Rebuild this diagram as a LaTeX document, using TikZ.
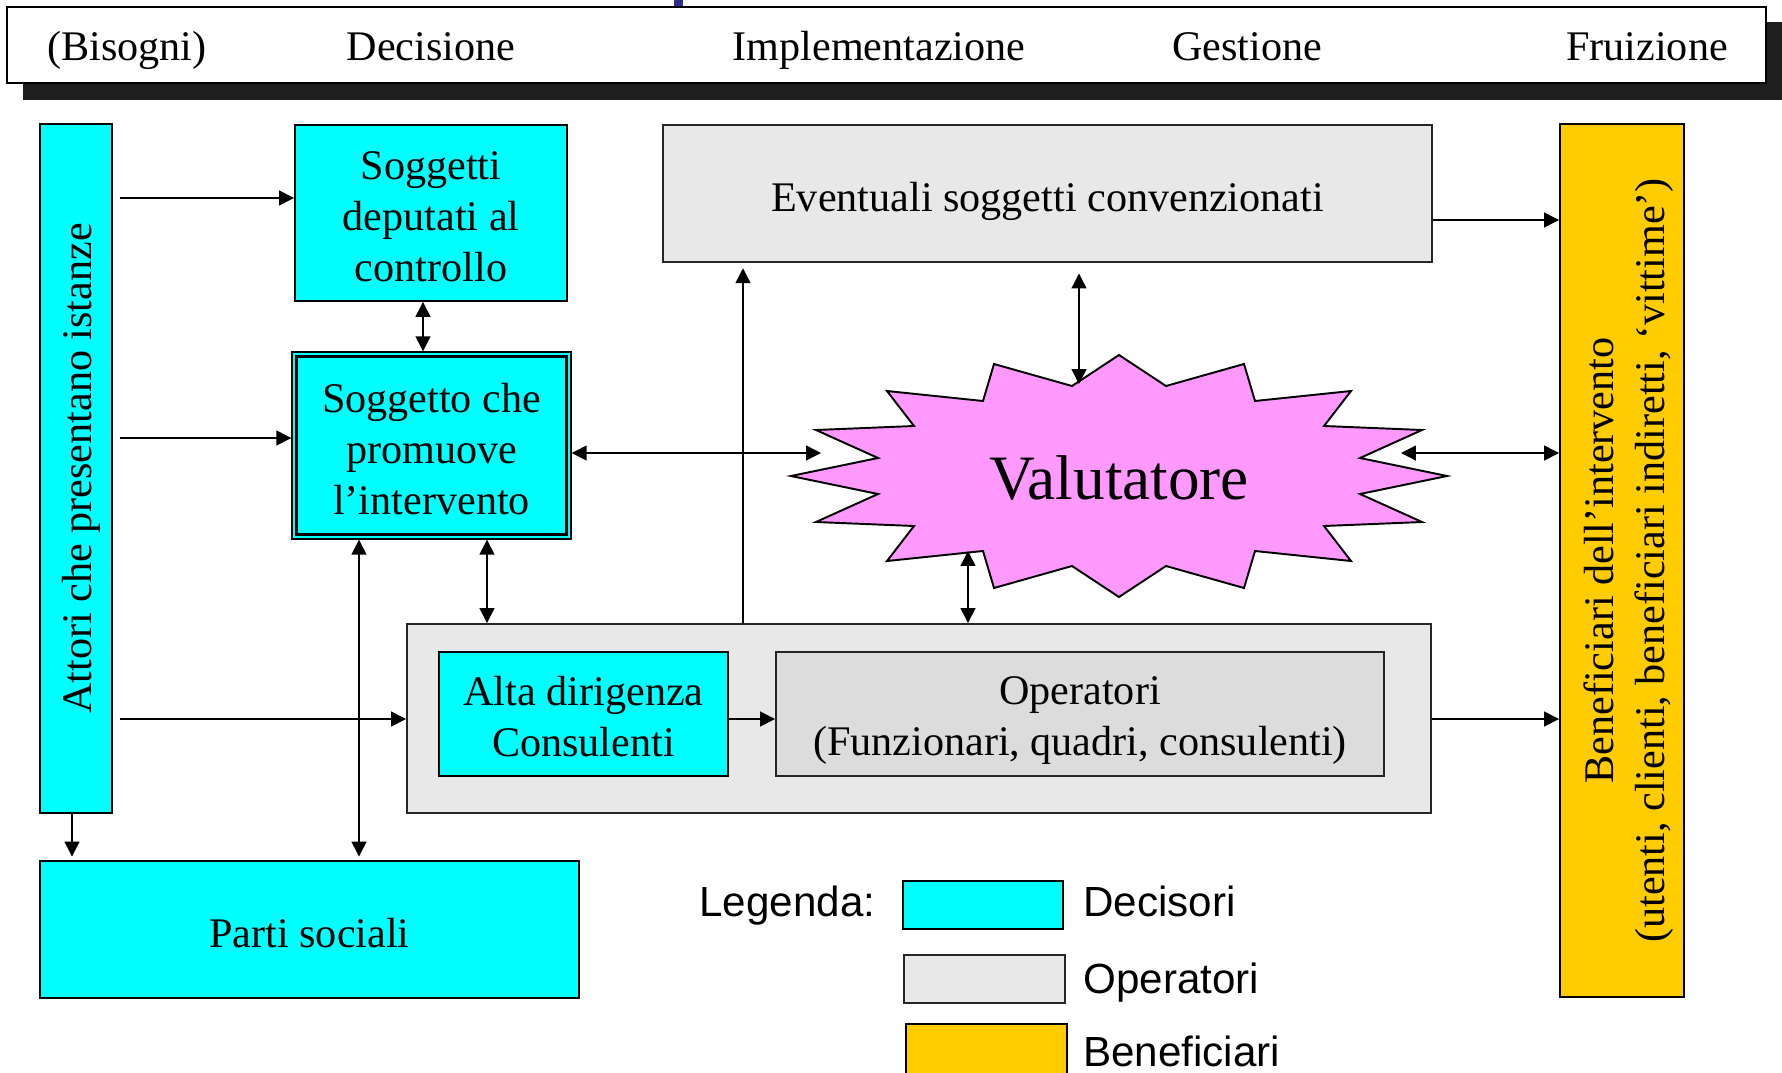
\documentclass[tikz,border=0pt]{standalone}
\usepackage{fontspec}
\setmainfont{Liberation Serif}
\newfontfamily\legfont{Liberation Sans}
\usetikzlibrary{arrows.meta}
\newlength\px
\setlength\px{0.02cm}
\definecolor{cyanc}{HTML}{00FFFF}
\definecolor{grayc}{HTML}{E8E8E8}
\definecolor{grayd}{HTML}{DCDCDC}
\definecolor{pinkc}{HTML}{FF99FF}
\definecolor{yellowc}{HTML}{FFCC00}
\definecolor{shadowc}{HTML}{1E1E1E}
\definecolor{bluec}{HTML}{2E2E8C}
\newcommand\mybody{\fontsize{24}{29}\selectfont}
\newcommand\mylegend{\legfont\fontsize{24}{29}\selectfont}
\tikzset{
  box/.style={draw=black, line width=1.1pt, inner sep=0pt},
  dec/.style={box, fill=cyanc},
  op/.style={box, fill=grayc, draw=black!85},
  ben/.style={box, fill=yellowc},
  btxt/.style={inner sep=0pt, align=center, font=\mybody},
  hdtext/.style={anchor=base, font=\mybody, inner sep=0pt},
  legtext/.style={anchor=base west, font=\mylegend, inner sep=0pt},
  arr/.style={-{Triangle[length=8.5pt,width=8.5pt]}, line width=0.8pt},
  darr/.style={{Triangle[length=8.5pt,width=8.5pt]}-{Triangle[length=8.5pt,width=8.5pt]}, line width=0.8pt}
}
\begin{document}
\begin{tikzpicture}[x=0.02cm,y=-0.02cm]
\useasboundingbox (0,0) rectangle (1782,1072);
\clip (0,0) rectangle (1782,1072);
% header
\fill[bluec] (674,0) rectangle (683,8);
\fill[shadowc] (23,22) rectangle (1790,100);
\node[draw=black, line width=1.1pt, fill=white, inner sep=0pt, minimum width=1759\px, minimum height=76\px] (header) at (886.5,45) {};
\node[hdtext] (h1) at (127,60) {(Bisogni)};
\node[hdtext] (h2) at (431,60) {Decisione};
\node[hdtext] (h3) at (879,60) {Implementazione};
\node[hdtext] (h4) at (1247,60) {Gestione};
\node[hdtext] (h5) at (1647,60) {Fruizione};
% boxes
\node[dec, minimum width=72\px, minimum height=689\px] (attori) at (76,468.5) {};
\node[btxt, rotate=90, yshift=-3pt] (attoriT) at (attori.center) {Attori che presentano istanze};
\node[dec, minimum width=272\px, minimum height=176\px] (ctrl) at (431,213) {};
\node[btxt, yshift=-1.9pt] (ctrlT) at (ctrl.center) {Soggetti\\deputati al\\controllo};
\node[dec, line width=0.8pt, minimum width=279\px, minimum height=187\px] (prom) at (431.5,445.5) {};
\draw[line width=1.8pt] ([shift={(5.5,5.5)}]prom.north west) rectangle ([shift={(-5.5,-5.5)}]prom.south east);
\node[btxt, yshift=-1.9pt] (promT) at (prom.center) {Soggetto che\\promuove\\l’intervento};
\node[op, minimum width=769\px, minimum height=137\px] (event) at (1047.5,193.5) {};
\node[btxt, yshift=-4.5pt] (eventT) at (event.center) {Eventuali soggetti convenzionati};
\node[ben, minimum width=124\px, minimum height=873\px] (benef) at (1622,560.5) {};
\node[btxt, rotate=90, yshift=-3.6pt] (benefT) at (benef.center) {Beneficiari dell’intervento\\(utenti, clienti, beneficiari indiretti, ‘vittime’)};
\node[op, minimum width=1024\px, minimum height=189\px] (bigbox) at (919,718.5) {};
\node[dec, minimum width=289\px, minimum height=124\px] (alta) at (583.5,714) {};
\node[btxt, yshift=-1.6pt] (altaT) at (alta.center) {Alta dirigenza\\Consulenti};
\node[op, fill=grayd, minimum width=608\px, minimum height=124\px] (oper) at (1080,714) {};
\node[btxt, yshift=-3.9pt] (operT) at (oper.center) {Operatori\\(Funzionari, quadri, consulenti)};
\node[dec, minimum width=539\px, minimum height=137\px] (parti) at (309.5,929.5) {};
\node[btxt, yshift=-1.9pt] (partiT) at (parti.center) {Parti sociali};
% star
\begin{scope}[shift={(1119,476)}]
\draw[fill=pinkc, line width=1.1pt] (0,-121) -- (47,-90) -- (125,-112) -- (136,-75) -- (232,-85) -- (205,-50) -- (303,-46) -- (241,-18) -- (328,0) -- (241,18) -- (303,46) -- (205,50) -- (232,85) -- (136,75) -- (125,112) -- (47,90) -- (0,121) -- (-47,90) -- (-125,112) -- (-136,75) -- (-232,85) -- (-205,50) -- (-303,46) -- (-241,18) -- (-328,0) -- (-241,-18) -- (-303,-46) -- (-205,-50) -- (-232,-85) -- (-136,-75) -- (-125,-112) -- (-47,-90) -- cycle;
\end{scope}
\node[anchor=base, font=\fontsize{36}{43}\selectfont, inner sep=0pt] (val) at (1119,499) {Valutatore};
\coordinate (valT) at (1079,384);
\coordinate (valB) at (968,551);
\coordinate (valL) at (821,453);
\coordinate (valR) at (1401,453);
% connectors
\draw[arr, shorten <=4pt] (attori.east |- 0,198) -- (ctrl.west |- 0,198);
\draw[arr, shorten <=4pt] (attori.east |- 0,438) -- (prom.west |- 0,438);
\draw[arr, shorten <=4pt] (attori.east |- 0,719) -- (bigbox.west |- 0,719);
\draw[arr, shorten >=2pt] (attori.south -| 72,0) -- (parti.north -| 72,0);
\draw[darr] (ctrl.south -| 423,0) -- (prom.north -| 423,0);
\draw[darr] (prom.south -| 487,0) -- (bigbox.north -| 487,0);
\draw[darr, shorten >=2pt] (prom.south -| 359,0) -- (parti.north -| 359,0);
\draw[darr] (prom.east |- valL) -- (valL);
\draw[arr, shorten >=3pt] (bigbox.north -| 743,0) -- (event.south -| 743,0);
\draw[darr, shorten <=6pt] (event.south -| valT) -- (valT);
\draw[darr] (valB) -- (bigbox.north -| valB);
\draw[darr] (valR) -- (benef.west |- valR);
\draw[arr] (event.east |- 0,220) -- (benef.west |- 0,220);
\draw[arr] (bigbox.east |- 0,719) -- (benef.west |- 0,719);
\draw[arr] (alta.east |- 0,719) -- (oper.west |- 0,719);
% legend
\node[legtext] (legT) at (699,916) {Legenda:};
\node[dec, minimum width=160\px, minimum height=48\px] (leg1) at (983,905) {};
\node[legtext] (leg1T) at (1083,916) {Decisori};
\node[op, minimum width=161\px, minimum height=48\px] (leg2) at (984.5,979) {};
\node[legtext] (leg2T) at (1083,993) {Operatori};
\node[ben, minimum width=161\px, minimum height=64\px] (leg3) at (986.5,1056) {};
\node[legtext] (leg3T) at (1083,1066) {Beneficiari};
\end{tikzpicture}
\end{document}
